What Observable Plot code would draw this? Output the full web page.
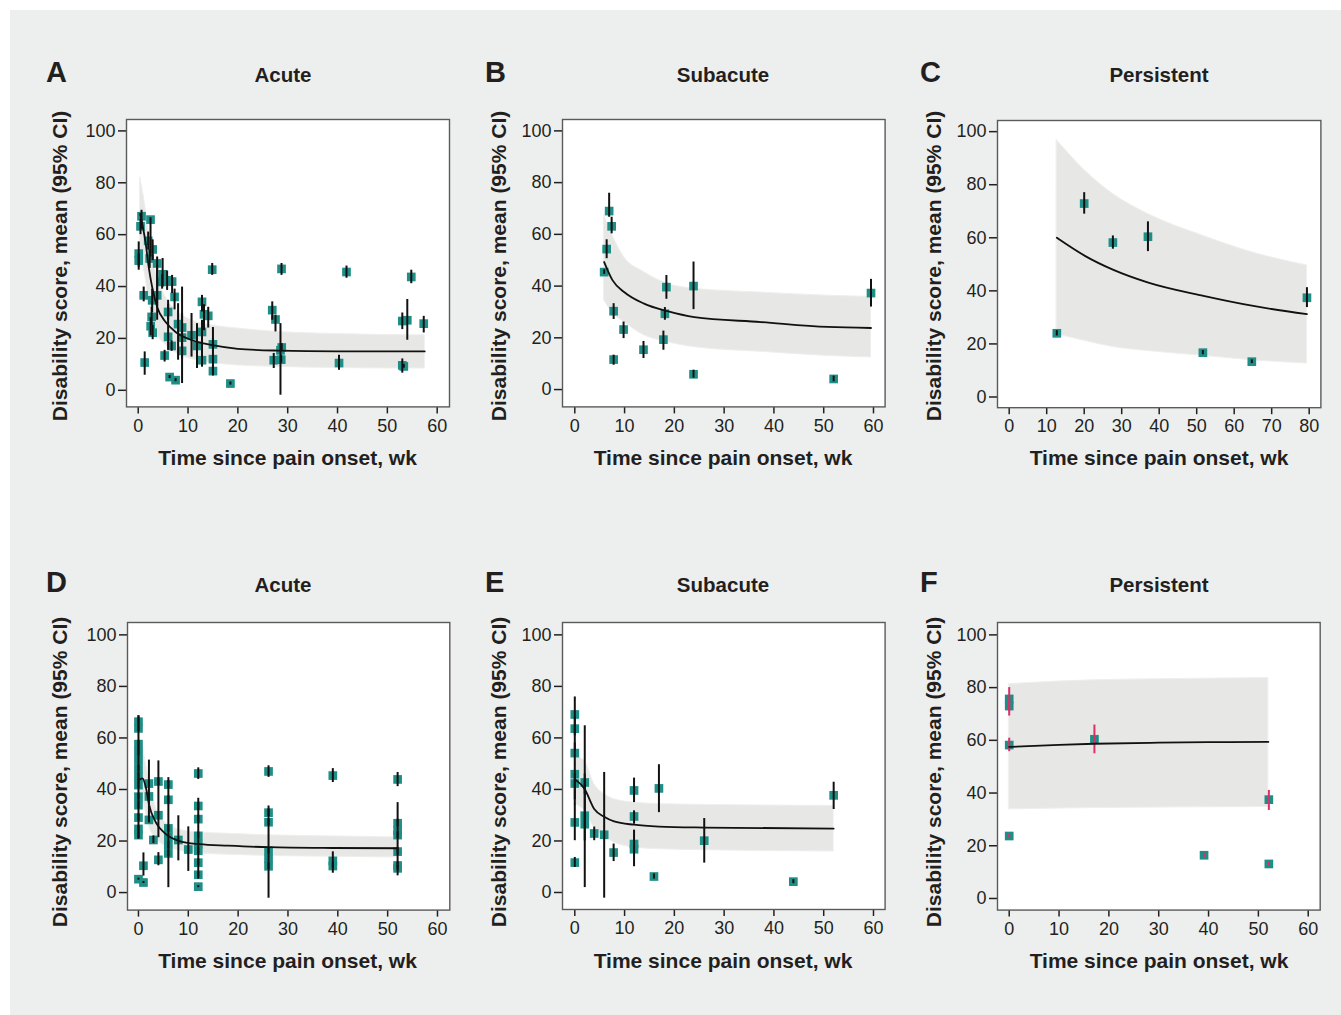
<!DOCTYPE html>
<html>
<head>
<meta charset="utf-8">
<script src="https://cdn.jsdelivr.net/npm/d3@7"></script>
<script src="https://cdn.jsdelivr.net/npm/@observablehq/plot@0.6"></script>
<style>
  html, body { margin: 0; padding: 0; background: #ffffff; }
  #page { position: relative; width: 1341px; height: 1015px; background: #ffffff; overflow: hidden;
          font-family: "Liberation Sans", Arial, Helvetica, sans-serif; }
  #bg { position: absolute; left: 10px; top: 10px; width: 1331px; height: 1005px; background: #edefee; }
  .panel { position: absolute; }
  .panel g[aria-label*="axis"] { stroke-width: 1.5px; }
  #overlay { position: absolute; left: 0; top: 0; pointer-events: none; }
</style>
</head>
<body>
<div id="page"><div id="bg"></div></div>
<script>
// ---------------- DATA ----------------
const panelLetters = ["A", "B", "C", "D", "E", "F"];
const panelTitles = ["Acute", "Subacute", "Persistent", "Acute", "Subacute", "Persistent"];
const yLabel = "Disability score, mean (95% CI)";
const xLabel = "Time since pain onset, wk";
const yTicks = [0, 20, 40, 60, 80, 100];
const xTicks60 = [0, 10, 20, 30, 40, 50, 60];
const xTicks80 = [0, 10, 20, 30, 40, 50, 60, 70, 80];

// Panel A – acute (study points)
const aWeeks = [0.66, 0.46, 2.47, 2.0, 0.1, 0.1, 2.9, 2.3, 3.8, 4.9, 4.8, 6.8, 5.8, 1.1, 3.8, 7.3, 2.8, 14.85, 12.8, 13.2, 14.05, 6.0, 2.7, 2.5, 2.9, 8.0, 8.8, 10.7, 12.8, 6.0, 8.8, 6.7, 8.8, 11.8, 15.0, 15.0, 15.0, 12.8, 5.3, 1.3, 6.3, 7.5, 18.5, 28.76, 41.8, 54.8, 26.9, 27.55, 27.2, 28.55, 28.7, 40.3, 53.0, 54.0, 57.3, 53.0, 53.3, 28.8];
const aMeans = [67.1, 63.2, 65.8, 57.6, 52.7, 50.0, 54.3, 50.8, 48.9, 44.7, 41.8, 41.9, 42.4, 36.6, 36.6, 36.0, 34.7, 46.5, 34.1, 29.3, 28.7, 30.2, 28.3, 24.7, 22.2, 25.5, 24.2, 21.2, 22.5, 20.6, 20.3, 17.1, 15.2, 17.1, 17.7, 12.0, 7.4, 11.6, 13.4, 10.7, 5.1, 3.9, 2.6, 46.8, 45.6, 43.7, 30.9, 27.3, 11.6, 15.4, 11.8, 10.5, 26.7, 27.0, 25.7, 9.6, 9.2, 16.5];
const aLower = [62, 60, 51.4, 54, 46.3, 47.5, 50, 47, 32.1, 39.8, 39, 37.3, 38.5, 34.1, 27, 31, 30, 44.3, 30.2, 23, 24, 27, 25, 21, 19.5, 11.6, 2.6, 12.8, 9, 15.4, 14.1, 15, 12, 8.4, 15.5, 6.2, 5.5, 9, 10.9, 5.8, 4.5, 3.3, 2, 44.3, 43.2, 41.1, 27.0, 22.5, 8.4, -1.9, 10.5, 7.7, 23.4, 19.3, 22.1, 6.6, 8.5, 15];
const aUpper = [69.4, 66, 66.5, 61, 57.2, 52.5, 58, 54, 51.4, 50.8, 44.5, 44.3, 46, 39.8, 48, 39, 39, 48.9, 36.6, 33, 32, 33, 32, 28, 25, 33.4, 39.8, 29.6, 27, 34.7, 29.6, 19, 18, 25.7, 20, 24.2, 9.5, 14, 15.4, 14.8, 5.7, 4.5, 3.2, 48.9, 47.9, 46.3, 34.1, 28.9, 14.2, 25.7, 13.5, 13.5, 29.8, 35.0, 28.5, 12.1, 10, 18];
// Panel A – fitted curve and 95% band
const aFitWeeks = [0.4, 1.5, 2.1, 2.8, 3.8, 5.5, 7.5, 10.8, 14.9, 20, 28, 40, 50, 57.5];
const aFitMean = [68, 56.6, 47.6, 39.8, 32.1, 26.3, 22.5, 19.3, 17.4, 16.0, 15.3, 15.0, 15.0, 15.0];
const aFitLower = [54, 43, 35, 28.5, 22, 17.5, 14.5, 12, 10.5, 9.6, 9.0, 8.6, 8.4, 8.4];
const aFitUpper = [82, 70, 61, 52, 44, 36, 31, 27, 25, 23.8, 22.5, 21.7, 21.3, 21.2];

// Panel B – subacute
const bWeeks = [6.9, 7.4, 6.4, 5.9, 7.8, 9.8, 7.8, 13.8, 18.4, 18.1, 17.8, 23.85, 23.85, 52.0, 59.5];
const bMeans = [69.0, 63.1, 54.3, 45.4, 30.3, 23.2, 11.6, 15.4, 39.6, 29.3, 19.3, 40.0, 5.9, 4.1, 37.3];
const bLower = [66.6, 60.2, 50.6, 44.5, 27.1, 19.7, 9.4, 12.0, 34.9, 26.8, 15.2, 30.9, 4.4, 3.0, 31.9];
const bUpper = [75.9, 66.6, 57.9, 46.3, 33.2, 26.1, 13.3, 18.6, 44.1, 31.7, 22.6, 49.3, 7.5, 5.2, 42.6];
const bFitWeeks = [5.9, 7.6, 9.9, 13.9, 18.6, 24, 37.4, 50.8, 59.5];
const bFitMean = [49.3, 42.2, 37.7, 33.2, 30.3, 28.0, 26.1, 24.2, 23.8];
const bFitLower = [34.5, 29.5, 26.1, 21.0, 18.3, 16.4, 14.6, 13.0, 12.4];
const bFitUpper = [67.3, 59.5, 51.2, 45.4, 40.9, 39.0, 37.5, 36.3, 35.8];

// Panel C – persistent
const cWeeks = [12.7, 20.0, 27.65, 37.0, 51.65, 64.7, 79.4];
const cMeans = [24.0, 72.9, 58.2, 60.4, 16.7, 13.3, 37.4];
const cLower = [23.0, 68.9, 55.7, 54.8, 15.9, 12.6, 33.7];
const cUpper = [25.0, 77.0, 60.7, 66.0, 17.5, 14.0, 41.2];
const cFitWeeks = [12.7, 20.3, 27.8, 37.1, 51.8, 65.1, 79.4];
const cFitMean = [60.0, 53.1, 47.9, 43.1, 38.1, 34.3, 31.2];
const cFitLower = [23.6, 21.1, 18.8, 17.3, 15.5, 13.8, 12.6];
const cFitUpper = [96.8, 85.2, 76.4, 68.9, 60.7, 54.4, 49.6];

// Panel D – acute (time points by arm)
const dWeeks = [0, 0, 0, 0, 0, 0, 0, 0, 0, 0, 0, 0, 0, 0, 1.0, 1.0, 2.1, 2.1, 2.1, 3.0, 4.0, 4.0, 4.0, 6.0, 6.0, 6.0, 6.0, 6.0, 6.0, 8.0, 10.0, 12.0, 12.0, 12.0, 12.0, 12.0, 12.0, 12.0, 12.0, 12.0, 26.1, 26.1, 26.1, 26.1, 26.1, 26.1, 39.0, 39.0, 39.0, 52.0, 52.0, 52.0, 52.0, 52.0, 52.0, 52.0];
const dMeans = [66.3, 63.7, 57.6, 54.5, 51.3, 48.1, 44.9, 41.7, 37.2, 33.9, 29.1, 24.7, 22.3, 5.2, 10.4, 3.9, 42.3, 37.3, 28.2, 20.4, 43.1, 30.0, 12.7, 41.9, 36.0, 24.9, 21.7, 18.5, 15.2, 20.4, 16.7, 46.2, 33.6, 28.5, 22.0, 18.8, 16.2, 11.6, 6.9, 2.3, 47.0, 31.0, 27.3, 16.2, 13.1, 10.2, 45.4, 12.3, 10.3, 43.9, 26.9, 24.0, 22.3, 15.9, 10.5, 9.4];
const dLower = [65, 62.5, 56, 53, 20.7, 47, 43.5, 40.5, 36, 32.5, 28, 23.5, 21, 4.8, 6.4, 3.5, 41, 27.8, 27, 19, 41.5, 21.3, 10.4, 40.5, 34.5, 23.5, 1.9, 17, 14, 12.3, 8.2, 43.9, 32, 27, 21, 5.2, 15, 10.5, 6, 1.9, 44.7, 29.5, 26, 15, -2.2, 9, 42.7, 7.5, 9.5, 41.1, 25.5, 6.5, 21, 14.5, 9.5, 8.5];
const dUpper = [68.6, 65, 59, 56, 68.6, 49.5, 46.5, 43, 38.5, 35.5, 30.5, 26, 23.5, 5.6, 15.4, 4.3, 43.5, 51.4, 29.5, 22, 44.5, 51.1, 15.5, 43.5, 37.5, 26, 44.6, 20, 16.5, 29.8, 25.5, 48.4, 35, 30, 23.5, 36.6, 17.5, 13, 8, 2.7, 49.2, 32.5, 28.5, 17.5, 33.6, 11.5, 48.1, 15.8, 11.5, 46.6, 28.5, 34.9, 23.5, 17.5, 12, 10.5];
const dFitWeeks = [0, 0.8, 1.5, 2.1, 3.5, 5.5, 8.1, 12.2, 18, 26.1, 39, 52];
const dFitMean = [43.6, 44.3, 40.7, 34.3, 27.2, 22.7, 20.1, 18.8, 18.2, 17.6, 17.3, 17.2];
const dFitLower = [38, 36, 31, 26, 21, 18, 16.3, 15.2, 14.7, 14.2, 13.9, 13.6];
const dFitUpper = [59, 57, 50, 44, 33, 27, 24.5, 23.3, 22.8, 22.2, 21.8, 21.4];

// Panel E – subacute (time points by arm)
const eWeeks = [0, 0, 0, 0, 0, 0, 0, 2.0, 2.0, 2.0, 3.9, 5.9, 7.8, 11.9, 11.9, 11.9, 11.9, 15.9, 16.9, 26.0, 43.9, 52.0];
const eMeans = [69.1, 63.6, 54.1, 45.9, 42.3, 27.2, 11.6, 42.7, 29.8, 26.5, 22.9, 22.4, 15.5, 39.6, 29.5, 18.8, 16.8, 6.2, 40.4, 20.1, 4.2, 37.7];
const eLower = [60.8, 55, 49.8, 36, 34, 20.1, 9.7, 38, 20, 1.9, 20.1, -2.2, 12.0, 34.9, 26.5, 10.0, 15.5, 5.2, 31.0, 11.4, 3.4, 32.2];
const eUpper = [75.9, 68, 58.0, 50, 46, 34.3, 13.6, 46, 42, 64.7, 25.4, 46.6, 18.8, 44.4, 31.7, 24.2, 18, 7.2, 49.6, 28.7, 5.0, 42.8];
const eFitWeeks = [0, 2, 3.9, 5.9, 7.9, 11.9, 16.9, 26, 52];
const eFitMean = [44.0, 40.1, 32.4, 29.4, 27.6, 26.3, 25.6, 25.2, 24.8];
const eFitLower = [34.3, 31.7, 25.2, 22.0, 19.4, 17.5, 16.8, 16.4, 15.9];
const eFitUpper = [53.0, 51.0, 42.1, 38.2, 36.2, 34.9, 34.3, 34.0, 33.6];

// Panel F – persistent (time points by arm)
const fWeeks = [0, 0, 0, 0, 17.1, 39.1, 52.1, 52.1];
const fMeans = [75.7, 73.0, 58.2, 23.7, 60.4, 16.4, 37.5, 13.1];
const fLower = [69.2, 71.0, 55.7, 22.9, 54.9, 15.6, 33.4, 12.4];
const fUpper = [80.0, 75.0, 60.8, 24.5, 65.8, 17.2, 41.0, 13.8];
const fFitWeeks = [0, 10, 17.1, 30, 40, 52];
const fFitMean = [57.5, 58.3, 58.7, 59.1, 59.3, 59.4];
const fFitLower = [33.8, 34.1, 34.3, 34.5, 34.6, 34.7];
const fFitUpper = [81.3, 82.3, 82.8, 83.2, 83.4, 83.6];

// ---------------- BUILD ----------------
const zipPts = (w, m, lo, hi) => w.map((x, i) => ({week: x, mean: m[i], lo: lo[i], hi: hi[i]}));
const FONT = '"Liberation Sans", Arial, Helvetica, sans-serif';
const TEAL = "#1f8e86";
const INK = "#231f20";

const panels = [
  {frame: [126, 449, 119.3, 406.7], xd: [-2.35, 62.47], yd: [-6.4, 104.4], xt: xTicks60,
   pts: zipPts(aWeeks, aMeans, aLower, aUpper), fit: zipPts(aFitWeeks, aFitMean, aFitLower, aFitUpper), bar: "#111"},
  {frame: [561.7, 884.3, 119.3, 406.7], xd: [-2.47, 62.33], yd: [-6.7, 104.4], xt: xTicks60,
   pts: zipPts(bWeeks, bMeans, bLower, bUpper), fit: zipPts(bFitWeeks, bFitMean, bFitLower, bFitUpper), bar: "#111"},
  {frame: [997.3, 1320.7, 119.5, 406.7], xd: [-3.12, 83.12], yd: [-4.03, 104.2], xt: xTicks80,
   pts: zipPts(cWeeks, cMeans, cLower, cUpper), fit: zipPts(cFitWeeks, cFitMean, cFitLower, cFitUpper), bar: "#111"},
  {frame: [126.7, 449, 621.7, 909.3], xd: [-2.2, 62.47], yd: [-6.8, 104.8], xt: xTicks60,
   pts: zipPts(dWeeks, dMeans, dLower, dUpper), fit: zipPts(dFitWeeks, dFitMean, dFitLower, dFitUpper), bar: "#111"},
  {frame: [561.7, 884.3, 621.7, 908.7], xd: [-2.47, 62.33], yd: [-6.6, 104.8], xt: xTicks60,
   pts: zipPts(eWeeks, eMeans, eLower, eUpper), fit: zipPts(eFitWeeks, eFitMean, eFitLower, eFitUpper), bar: "#111"},
  {frame: [997.3, 1320, 621.7, 909.3], xd: [-2.35, 62.4], yd: [-4.4, 104.7], xt: xTicks60,
   pts: zipPts(fWeeks, fMeans, fLower, fUpper), fit: zipPts(fFitWeeks, fFitMean, fFitLower, fFitUpper), bar: "#dc2f68"}
];

const page = document.getElementById("page");
const ml = 52, mr = 3, mt = 3, mb = 36;

panels.forEach((p) => {
  const [fx0, fx1, fy0, fy1] = p.frame;
  const W = fx1 - fx0 + ml + mr;
  const H = fy1 - fy0 + mt + mb;
  const chart = Plot.plot({
    width: W, height: H,
    marginLeft: ml, marginRight: mr, marginTop: mt, marginBottom: mb,
    style: {background: "transparent", fontFamily: FONT, fontSize: "18px", color: INK, overflow: "visible"},
    x: {domain: p.xd, ticks: p.xt, tickSize: 7, tickPadding: 5, label: null, tickFormat: d3.format("d")},
    y: {domain: p.yd, ticks: yTicks, tickSize: 8, tickPadding: 3, label: null, tickFormat: d3.format("d")},
    marks: [
      Plot.frame({fill: "white", stroke: "none"}),
      Plot.areaY(p.fit, {x: "week", y1: "lo", y2: "hi", fill: "#e7e7e6", stroke: "#efefee", strokeWidth: 1, curve: "monotone-x"}),
      Plot.dot(p.pts, {x: "week", y: "mean", symbol: "square", r: 4.9, fill: TEAL}),
      Plot.ruleX(p.pts, {x: "week", y1: "lo", y2: "hi", stroke: p.bar, strokeWidth: 2}),
      Plot.line(p.fit, {x: "week", y: "mean", stroke: "#111", strokeWidth: 1.8, curve: "monotone-x"}),
      Plot.frame({stroke: "#5a5a5a", strokeWidth: 1.4})
    ]
  });
  chart.classList.add("panel");
  chart.style.left = (fx0 - ml) + "px";
  chart.style.top = (fy0 - mt) + "px";
  page.appendChild(chart);
});

// ---------------- TEXT OVERLAY ----------------
const ns = "http://www.w3.org/2000/svg";
const ov = document.createElementNS(ns, "svg");
ov.setAttribute("id", "overlay");
ov.setAttribute("width", 1341);
ov.setAttribute("height", 1015);
ov.style.fontFamily = FONT;
page.appendChild(ov);

function txt(s, x, y, size, opts = {}) {
  const t = document.createElementNS(ns, "text");
  t.textContent = s;
  t.setAttribute("x", x);
  t.setAttribute("y", y);
  t.setAttribute("font-size", size);
  t.setAttribute("font-weight", "bold");
  t.setAttribute("fill", INK);
  if (opts.anchor) t.setAttribute("text-anchor", opts.anchor);
  if (opts.transform) t.setAttribute("transform", opts.transform);
  ov.appendChild(t);
}

const letterX = [46, 485, 920];
const titleX = [283, 723, 1159];
const xLabelX = [287.5, 723, 1159];
const yLabelX = [66.5, 505.5, 940.5];
const rowLetterY = [82, 592];
const rowXLabelY = [465, 968];
const rowYLabelC = [266, 772];

panelLetters.forEach((L, i) => {
  const col = i % 3, row = Math.floor(i / 3);
  txt(L, letterX[col], rowLetterY[row], 29);
  txt(panelTitles[i], titleX[col], rowLetterY[row], 20.5, {anchor: "middle"});
  txt(xLabel, xLabelX[col], rowXLabelY[row], 21, {anchor: "middle"});
  txt(yLabel, 0, 0, 21, {anchor: "middle", transform: `translate(${yLabelX[col]},${rowYLabelC[row]}) rotate(-90)`});
});
</script>
</body>
</html>
